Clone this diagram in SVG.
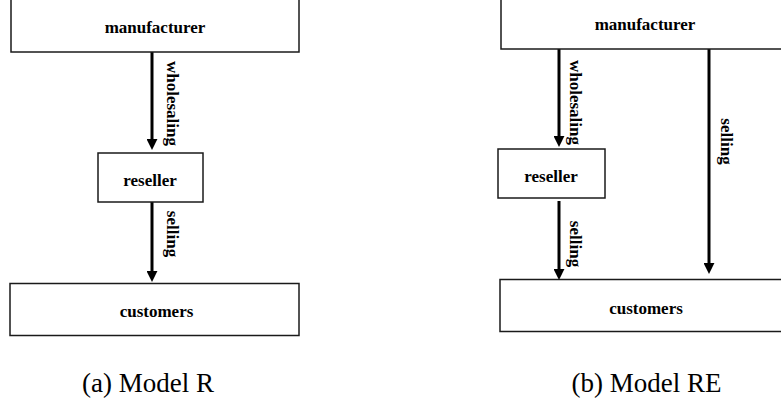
<svg xmlns="http://www.w3.org/2000/svg" width="781" height="406" viewBox="0 0 781 406">
<style>
.box{fill:#fff;stroke:#1a1a1a;stroke-width:1.5}
.t{font-family:"Liberation Serif","Times New Roman",serif;font-weight:bold;font-size:17px;fill:#000;text-anchor:middle}
.cap{font-family:"Liberation Serif","Times New Roman",serif;font-size:27px;fill:#000;text-anchor:middle}
.arr{stroke:#000;stroke-width:3;fill:none;marker-end:url(#ah)}
</style>
<defs>
<marker id="ah" viewBox="0 0 10 10" refX="1" refY="5" markerWidth="11" markerHeight="11" markerUnits="userSpaceOnUse" orient="auto">
<path d="M0,0 L10,5 L0,10 z" fill="#000"/>
</marker>
</defs>
<g id="connectors">
<line class="arr" x1="152" y1="52" x2="152" y2="140"/>
<line class="arr" x1="152" y1="202" x2="152" y2="272"/>
<line class="arr" x1="559" y1="49" x2="559" y2="137"/>
<line class="arr" x1="559" y1="201" x2="559" y2="270"/>
<line class="arr" x1="709" y1="49" x2="709" y2="264"/>
<text class="t" transform="translate(167,103.5) rotate(90)">wholesaling</text>
<text class="t" transform="translate(167,234) rotate(90)">selling</text>
<text class="t" transform="translate(570,102.5) rotate(90)">wholesaling</text>
<text class="t" transform="translate(570,244) rotate(90)">selling</text>
<text class="t" transform="translate(721,141.5) rotate(90)">selling</text>
</g>
<g id="a-manufacturer">
<rect class="box" x="11" y="-2" width="288" height="54"/>
<text class="t" x="155" y="33">manufacturer</text>
</g>
<g id="a-reseller">
<rect class="box" x="98" y="153" width="105" height="49"/>
<text class="t" x="150" y="186">reseller</text>
</g>
<g id="a-customers">
<rect class="box" x="10" y="283.5" width="289" height="52"/>
<text class="t" x="156.5" y="316.5">customers</text>
</g>
<g id="b-manufacturer">
<rect class="box" x="501" y="-2" width="290" height="51"/>
<text class="t" x="645" y="29.5">manufacturer</text>
</g>
<g id="b-reseller">
<rect class="box" x="498" y="149" width="107" height="49"/>
<text class="t" x="551" y="182">reseller</text>
</g>
<g id="b-customers">
<rect class="box" x="500" y="279.5" width="291" height="52"/>
<text class="t" x="646" y="313.5">customers</text>
</g>
<text class="cap" x="148" y="392">(a) Model R</text>
<text class="cap" x="646.5" y="392">(b) Model RE</text>
</svg>
